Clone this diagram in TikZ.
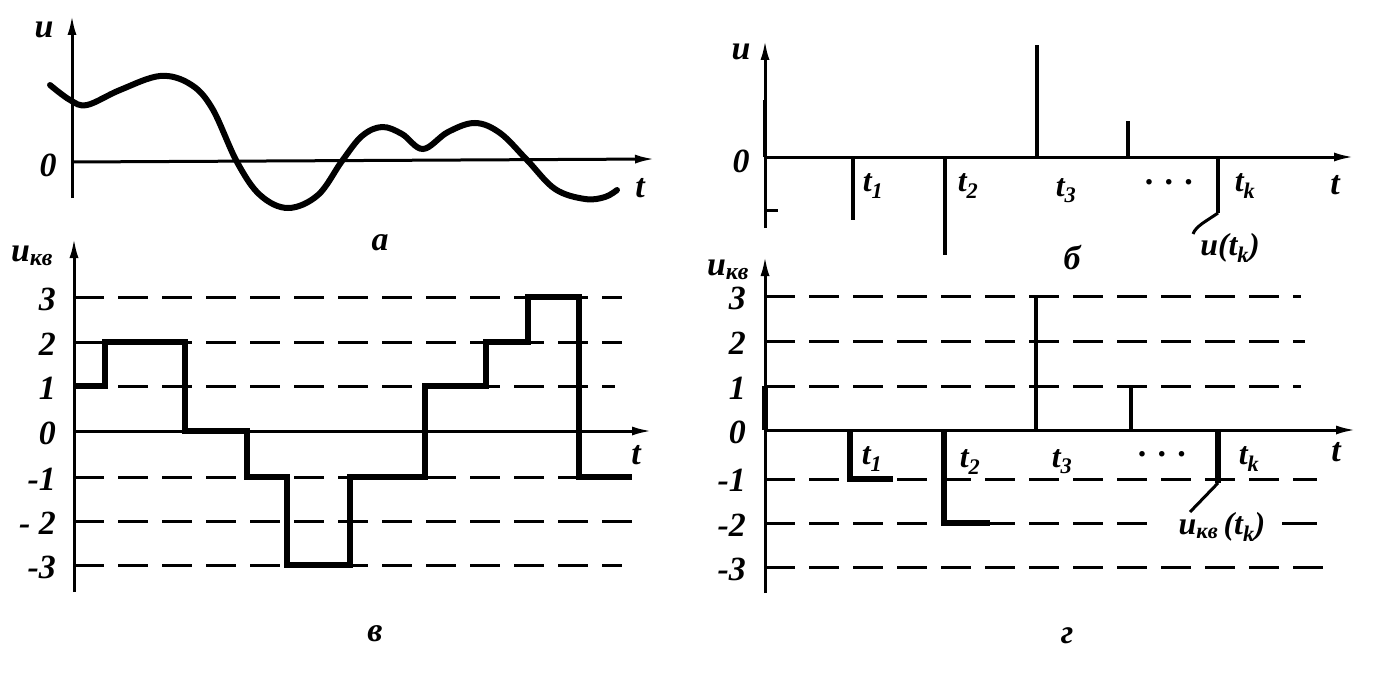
\documentclass[tikz,border=0pt]{standalone}
\usepackage{fontspec}
\setmainfont{Liberation Serif}
\usetikzlibrary{arrows.meta}
\begin{document}
\begin{tikzpicture}[x=1bp,y=-1bp,
  axis/.style={line width=3bp,-{Latex[length=20bp,width=9bp]}},
  axisline/.style={line width=3bp},
  lvl/.style={line width=3bp,dash pattern=on 30bp off 14bp},
  sig/.style={line width=6bp,line cap=butt,line join=miter},
  spike/.style={line width=4.5bp},
  curve/.style={line width=6bp,line cap=round},
  lbl/.style={font=\fontsize{34}{36}\selectfont\bfseries\itshape,inner sep=0pt},
  slbl/.style={font=\fontsize{32}{34}\selectfont\bfseries\itshape,inner sep=0pt}]
\useasboundingbox[fill=white] (0,0) rectangle (1394,685);

% ================= panel a =================
\coordinate (aB) at (72,198);
\coordinate (aT) at (72,15);
\coordinate (aO) at (72,162);
\coordinate (aR) at (655,159);
\draw[axis] (aB) -- (aT);
\draw[axis] (aO) -- (aR);
\draw[curve] plot[smooth,tension=0.6] coordinates {(50,85) (70,100) (87,105) (120,90) (160,76) (190,84) (212,108) (237,162) (260,195) (288,208) (318,195) (342,161) (362,136) (382,127) (402,134) (423,149) (448,132) (475,123) (500,133) (527,160) (555,189) (585,199) (605,197) (617,190)};
\node[lbl] (au) at (44,30) {u};
\node[lbl] (a0) at (48,165) {0};
\node[lbl] (at) at (640,188) {t};
\node[lbl] (acap) at (380,243) {а};

% ================= panel v (в) =================
\coordinate (vB) at (74,592);
\coordinate (vT) at (74,238);
\coordinate (vO) at (74,431);
\coordinate (vR) at (652,431);
\draw[axis] (vB) -- (vT);
\draw[axis] (vO) -- (vR);
\foreach \yy/\xe in {297/622, 342/622, 386/615, 477/632, 521/636, 565/622}
  \draw[lvl] (74,\yy) -- (\xe,\yy);
\draw[sig] (74,386) -- (105,386) -- (105,342) -- (185,342) -- (185,431) -- (247,431)
  -- (247,477) -- (287,477) -- (287,565) -- (350,565) -- (350,477) -- (425,477)
  -- (425,386) -- (486,386) -- (486,342) -- (528,342) -- (528,297) -- (579,297)
  -- (579,477) -- (632,477);
\node[lbl,anchor=east] (v3) at (56,299) {3};
\node[lbl,anchor=east] (v2) at (56,344) {2};
\node[lbl,anchor=east] (v1) at (56,388) {1};
\node[lbl,anchor=east] (v0) at (56,433) {0};
\node[lbl,anchor=east] (vm1) at (56,479) {-1};
\node[lbl,anchor=east] (vm2) at (56,523) {- 2};
\node[lbl,anchor=east] (vm3) at (56,567) {-3};
\node[lbl] (vu) at (32,256) {u\textsubscript{кв}};
\node[lbl] (vt) at (636,455) {t};
\node[lbl] (vcap) at (375,634) {в};

% ================= panel b (б) =================
\coordinate (bB) at (765,228);
\coordinate (bT) at (765,40);
\coordinate (bO) at (765,157);
\coordinate (bR) at (1354,157);
\draw[axis] (bB) -- (bT);
\draw[axis] (bO) -- (bR);
\draw[spike] (765,157) -- (765,100);
\draw[axisline] (765,210) -- (778,210);
\draw[spike] (853,157) -- (853,220);
\draw[spike] (945,157) -- (945,255);
\draw[spike] (1037,157) -- (1037,45);
\draw[spike] (1128,157) -- (1128,121);
\coordinate (bk) at (1218,213);
\coordinate (bkl) at (1193,234);
\draw[spike] (1218,157) -- (bk);
\draw[line width=3bp] (bk) .. controls (1205,222) and (1196,226) .. (bkl);
\node[lbl] (bu) at (741,52) {u};
\node[lbl] (b0) at (741,161) {0};
\node[slbl] (bt1) at (873,186) {t\textsubscript{1}};
\node[slbl] (bt2) at (968,186) {t\textsubscript{2}};
\node[slbl] (bt3) at (1066,191) {t\textsubscript{3}};
\node[lbl] (bdots) at (1170,182) {.\,\,.\,\,.};
\node[slbl] (btk) at (1245,186) {t\textsubscript{k}};
\node[lbl] (bt) at (1335,185) {t};
\node[slbl] (butk) at (1230,248) {u(t\textsubscript{k})};
\node[lbl] (bcap) at (1072,258) {б};

% ================= panel g (г) =================
\coordinate (gB) at (765,593);
\coordinate (gT) at (765,256);
\coordinate (gO) at (765,430);
\coordinate (gR) at (1356,430);
\draw[axis] (gB) -- (gT);
\draw[axis] (gO) -- (gR);
\foreach \yy/\xe in {296/1301, 341/1305, 386/1301, 479/1317, 567/1323}
  \draw[lvl] (765,\yy) -- (\xe,\yy);
\draw[lvl] (765,523) -- (1158,523);
\draw[axisline] (1282,523) -- (1317,523);
\draw[sig] (765,430) -- (765,386);
\draw[sig] (850,430) -- (850,479) -- (893,479);
\draw[sig] (944,430) -- (944,523) -- (990,523);
\draw[spike] (1036,430) -- (1036,296);
\draw[spike] (1131,430) -- (1131,386);
\coordinate (gk) at (1218,483);
\coordinate (gkl) at (1190,512);
\draw[sig] (1218,430) -- (gk);
\draw[line width=3bp] (gk) -- (gkl);
\node[lbl,anchor=east] (g3) at (746,298) {3};
\node[lbl,anchor=east] (g2) at (746,343) {2};
\node[lbl,anchor=east] (g1) at (746,388) {1};
\node[lbl,anchor=east] (g0) at (746,432) {0};
\node[lbl,anchor=east] (gm1) at (746,480) {-1};
\node[lbl,anchor=east] (gm2) at (746,525) {-2};
\node[lbl,anchor=east] (gm3) at (746,569) {-3};
\node[lbl] (gu) at (728,270) {u\textsubscript{кв}};
\node[slbl] (gt1) at (872,459) {t\textsubscript{1}};
\node[slbl] (gt2) at (970,462) {t\textsubscript{2}};
\node[slbl] (gt3) at (1062,462) {t\textsubscript{3}};
\node[lbl] (gdots) at (1163,454) {.\,\,.\,\,.};
\node[slbl] (gtk) at (1249,459) {t\textsubscript{k}};
\node[lbl] (gt) at (1336,452) {t};
\node[slbl] (gutk) at (1222,527) {u\textsubscript{кв}\,(t\textsubscript{k})};
\node[lbl] (gcap) at (1067,636) {г};
\end{tikzpicture}
\end{document}
